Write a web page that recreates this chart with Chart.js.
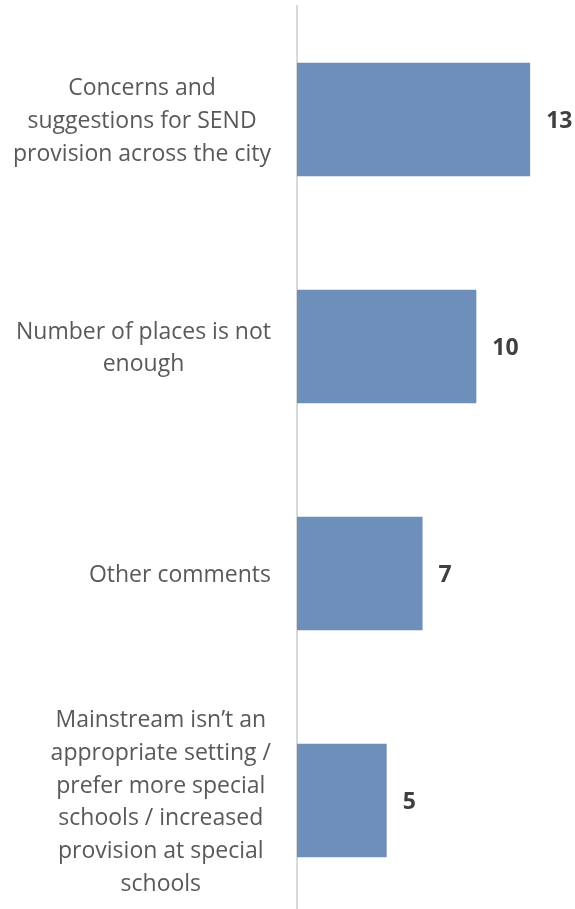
<!DOCTYPE html>
<html>
<head>
<meta charset="utf-8">
<script src="https://cdn.jsdelivr.net/npm/chart.js@4/dist/chart.umd.min.js"></script>
<style>
  html, body { margin: 0; padding: 0; background: #fff; overflow: hidden; }
  #wrap { width: 575px; height: 914px; }
</style>
</head>
<body>
<div id="wrap"><canvas id="myChart"></canvas></div>
<script>
// chart data
const categories = [
  ['Concerns and', 'suggestions for SEND', 'provision across the city'],
  ['Number of places is not', 'enough'],
  ['Other comments'],
  ['Mainstream isn\u2019t an', 'appropriate setting /', 'prefer more special', 'schools / increased', 'provision at special', 'schools']
]
const counts = [13, 10, 7, 5]

const labelFont = '23px "Open Sans"'
const labelColor = '#595959'

// draws the category labels (lines centred inside a right-aligned block, like Excel)
const categoryLabels = {
  id: 'categoryLabels',
  afterDraw(chart) {
    const c = chart.ctx
    const yScale = chart.scales.y
    const right = yScale.right - 26
    const lineH = 32.7
    c.save()
    c.font = labelFont
    c.fillStyle = labelColor
    c.textAlign = 'center'
    c.textBaseline = 'middle'
    categories.forEach((lines, i) => {
      const w = Math.max(...lines.map(l => c.measureText(l).width))
      const cx = right - w / 2
      const cy = yScale.getPixelForTick(i) + 2
      const top = cy - (lines.length - 1) * lineH / 2
      lines.forEach((l, j) => c.fillText(l, cx, top + j * lineH))
    })
    c.restore()
  }
}

// value labels at the end of each bar
const valueLabels = {
  id: 'valueLabels',
  afterDatasetsDraw(chart) {
    const c = chart.ctx
    const meta = chart.getDatasetMeta(0)
    c.save()
    c.font = 'bold 23px "Open Sans"'
    c.fillStyle = '#404040'
    c.textAlign = 'left'
    c.textBaseline = 'middle'
    meta.data.forEach((bar, i) => {
      c.fillText(String(counts[i]), bar.x + 16, bar.y + 2)
    })
    c.restore()
  }
}

const config = {
  type: 'bar',
  data: {
    labels: categories.map(l => l.join(' ')),
    datasets: [{
      data: counts,
      backgroundColor: '#6d8fb9',
      categoryPercentage: 1,
      barPercentage: 0.5
    }]
  },
  options: {
    indexAxis: 'y',
    responsive: true,
    maintainAspectRatio: false,
    animation: false,
    layout: { padding: { top: 6, bottom: 0, right: 9, left: 0 } },
    plugins: { legend: { display: false }, tooltip: { enabled: false } },
    scales: {
      x: { display: false, min: 0, max: 15 },
      y: {
        ticks: { display: false },
        grid: { display: false },
        border: { display: true, color: '#d9d9d9', width: 2 },
        afterFit(scale) { scale.width = 297 }
      }
    }
  },
  plugins: [categoryLabels, valueLabels]
}

const myChart = new Chart(document.getElementById('myChart'), config)
</script>
</body>
</html>
